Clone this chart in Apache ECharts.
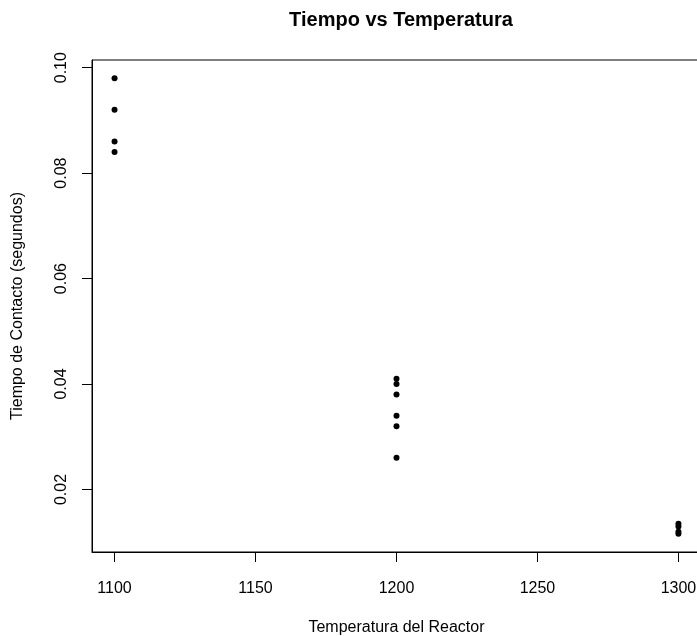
<!DOCTYPE html>
<html>
<head>
<meta charset="utf-8">
<script src="https://cdn.jsdelivr.net/npm/echarts@6/dist/echarts.min.js"></script>
<style>
  html, body { margin: 0; padding: 0; background: #fff; }
  #chart { width: 697px; height: 636px; }
</style>
</head>
<body>
<div id="chart"></div>
<script>
// Reactor temperature (x) and contact time in seconds (y)
const temperatura = [1100, 1100, 1100, 1100,
                     1200, 1200, 1200, 1200, 1200, 1200,
                     1300, 1300, 1300, 1300];
const tiempo = [0.098, 0.092, 0.086, 0.084,
                0.041, 0.040, 0.038, 0.034, 0.032, 0.026,
                0.0135, 0.013, 0.012, 0.0116];

const xTicks = [1100, 1150, 1200, 1250, 1300];
const yTicks = [0.02, 0.04, 0.06, 0.08, 0.10];

const points = temperatura.map((t, i) => [t, tiempo[i]]);

// axis ranges padded 4% beyond the data, like R's default
const xmin = Math.min(...temperatura), xmax = Math.max(...temperatura);
const ymin = Math.min(...tiempo), ymax = Math.max(...tiempo);
const xPad = (xmax - xmin) * 0.04, yPad = (ymax - ymin) * 0.04;

const FONT = "'Liberation Sans', Arial, Helvetica, sans-serif";

const chart = echarts.init(document.getElementById('chart'), null, { renderer: 'canvas' });
chart.setOption({
  backgroundColor: '#fff',
  animation: false,
  title: {
    text: 'Tiempo vs Temperatura',
    left: 396,
    top: 5,
    textAlign: 'center',
    textStyle: { fontFamily: FONT, fontSize: 20, fontWeight: 'bold', color: '#000' }
  },
  grid: {
    left: 92, top: 60, width: 609, height: 492,
    outerBoundsMode: 'none',
    containLabel: false,
    show: true, borderColor: '#000', borderWidth: 1, backgroundColor: 'transparent'
  },
  xAxis: {
    type: 'value',
    min: xmin - xPad, max: xmax + xPad,
    name: 'Temperatura del Reactor',
    nameLocation: 'middle',
    nameGap: 68,
    nameTextStyle: { fontFamily: FONT, fontSize: 16, color: '#000' },
    axisLine: { show: true, lineStyle: { color: '#000', width: 1 } },
    axisTick: { show: true, customValues: xTicks, length: 10, lineStyle: { color: '#000' } },
    axisLabel: {
      customValues: xTicks, margin: 29,
      formatter: v => String(v),
      fontFamily: FONT, fontSize: 16, color: '#000'
    },
    splitLine: { show: false }
  },
  yAxis: {
    type: 'value',
    min: ymin - yPad, max: ymax + yPad,
    name: 'Tiempo de Contacto (segundos)',
    nameLocation: 'middle',
    nameGap: 66,
    nameTextStyle: { fontFamily: FONT, fontSize: 16, color: '#000' },
    axisLine: { show: true, lineStyle: { color: '#000', width: 1 } },
    axisTick: { show: true, customValues: yTicks, length: 10, lineStyle: { color: '#000' } },
    axisLabel: {
      customValues: yTicks, rotate: 90, margin: 22,
      formatter: v => v.toFixed(2),
      fontFamily: FONT, fontSize: 16, color: '#000'
    },
    splitLine: { show: false }
  },
  series: [{
    type: 'scatter',
    data: points,
    symbol: 'circle',
    symbolSize: 6,
    itemStyle: { color: '#000', opacity: 1 }
  }]
});
</script>
</body>
</html>
